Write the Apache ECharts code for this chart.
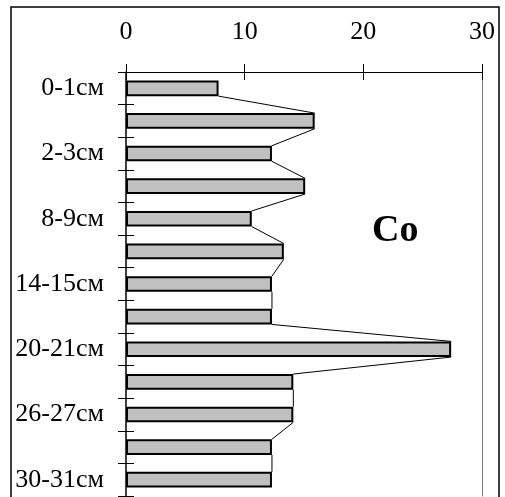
<!DOCTYPE html>
<html>
<head>
<meta charset="utf-8">
<script src="https://cdn.jsdelivr.net/npm/echarts@6/dist/echarts.min.js"></script>
<style>
  html, body { margin: 0; padding: 0; background: #fff; }
  #chart { width: 505px; height: 497px; }
</style>
</head>
<body>
<div id="chart"></div>
<script>
// Depth layers (only every other one is labelled on the axis)
var depths = ['0-1см', '', '2-3см', '', '8-9см', '', '14-15см', '', '20-21см', '', '26-27см', '', '30-31см'];
// Co content per layer
var coValues = [7.8, 15.9, 12.3, 15.1, 10.6, 13.3, 12.3, 12.3, 27.4, 14.1, 14.1, 12.3, 12.3];
var xTicks = { min: 0, max: 30, interval: 10 };

var serif = 'Liberation Serif';
var barRatio = 0.48;

// Segments linking the end of each bar to the end of the next one
var linkData = coValues.slice(0, -1).map(function (v, i) {
    return [v, i, coValues[i + 1]];
});

var chart = echarts.init(document.getElementById('chart'));

chart.setOption({
    animation: false,
    textStyle: { fontFamily: serif },

    title: {
        text: 'Co',
        left: 372,
        top: 212,
        padding: 0,
        textStyle: { fontFamily: serif, fontSize: 38, fontWeight: 'bold', color: '#000' }
    },

    graphic: [{
        type: 'rect',
        shape: { x: 11, y: 7, width: 488, height: 520 },
        style: { fill: 'transparent', stroke: '#000', lineWidth: 1.5 },
        z: -1
    }],

    grid: { left: 126, right: 23, top: 72, bottom: 1 },

    xAxis: [{
        type: 'value',
        position: 'top',
        min: xTicks.min, max: xTicks.max, interval: xTicks.interval,
        axisLine: { show: true, lineStyle: { color: '#000', width: 1 } },
        axisTick: { show: false },
        splitLine: { show: false },
        axisLabel: { fontFamily: serif, fontSize: 26, color: '#000', margin: 27 }
    }, {
        // crossing ticks
        type: 'value',
        position: 'top',
        offset: -8,
        min: xTicks.min, max: xTicks.max, interval: xTicks.interval,
        axisLine: { show: false },
        axisTick: { show: true, length: 16, lineStyle: { color: '#000', width: 1 } },
        splitLine: { show: false },
        axisLabel: { show: false }
    }],

    yAxis: [{
        type: 'category',
        inverse: true,
        data: depths,
        axisLine: { show: true, lineStyle: { color: '#000', width: 1.5 } },
        axisTick: { show: false },
        axisLabel: { interval: 0, fontFamily: serif, fontSize: 26, color: '#000', margin: 22 }
    }, {
        // crossing ticks on the depth axis
        type: 'category',
        inverse: true,
        position: 'left',
        offset: -8,
        data: depths,
        axisLine: { show: false },
        axisTick: { show: true, interval: 0, length: 16, lineStyle: { color: '#000', width: 1 } },
        axisLabel: { show: false }
    }, {
        // right edge of the plot
        type: 'category',
        inverse: true,
        position: 'right',
        data: depths,
        axisLine: { show: true, lineStyle: { color: '#808080', width: 1 } },
        axisTick: { show: false },
        axisLabel: { show: false }
    }],

    series: [{
        name: 'Co',
        type: 'bar',
        barWidth: (barRatio * 100) + '%',
        itemStyle: { color: '#c0c0c0', borderColor: '#000', borderWidth: 2 },
        data: coValues
    }, {
        type: 'custom',
        silent: true,
        encode: { x: 0, y: 1 },
        data: linkData,
        z: 3,
        renderItem: function (params, api) {
            var idx = api.value(1);
            var p1 = api.coord([api.value(0), idx]);
            var p2 = api.coord([api.value(2), idx + 1]);
            var half = api.size([0, 1])[1] * barRatio / 2;
            return {
                type: 'line',
                shape: { x1: p1[0], y1: p1[1] + half, x2: p2[0], y2: p2[1] - half },
                style: { stroke: '#000', lineWidth: 1 }
            };
        }
    }]
});
</script>
</body>
</html>
